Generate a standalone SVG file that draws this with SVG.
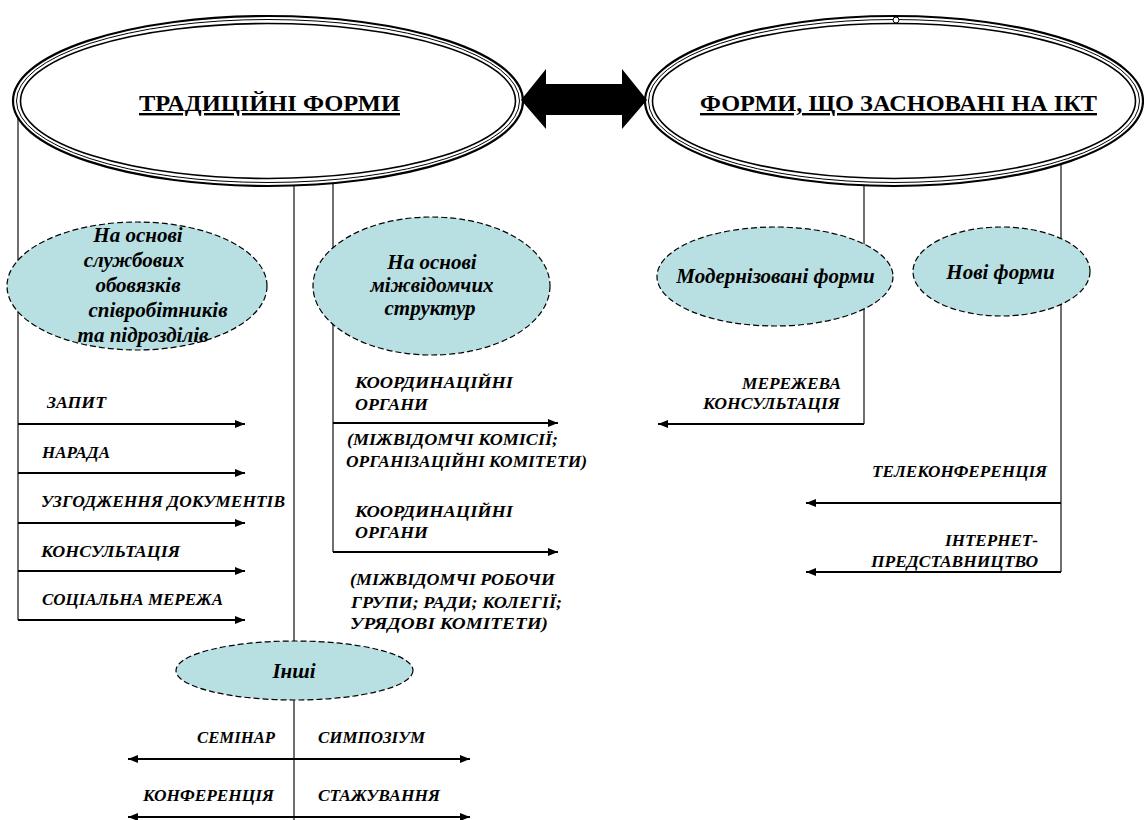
<svg xmlns="http://www.w3.org/2000/svg" width="1144" height="820" viewBox="0 0 1144 820">
<defs>
<marker id="ah" viewBox="0 0 10 8" refX="10" refY="4" markerWidth="10" markerHeight="8" markerUnits="userSpaceOnUse" orient="auto-start-reverse">
<path d="M0,0 L10,4 L0,8 z" fill="#000"/>
</marker>
<style>
.v{stroke:#222;stroke-width:1.3;fill:none}
.h{stroke:#000;stroke-width:1.8;fill:none}
.big{fill:#fff;stroke:#000}
.sub{fill:#b8dfe2;stroke:#000;stroke-width:1.2;stroke-dasharray:6 3}
text{font-family:'Liberation Serif','DejaVu Serif',serif}
.title{font-weight:bold;font-size:24px;text-decoration:underline}
.et{font-weight:bold;font-style:italic;font-size:21px;text-anchor:middle}
.lb{font-weight:bold;font-style:italic;font-size:17px}
</style>
</defs>
<rect width="1144" height="820" fill="#fff"/>

<g id="connectors">
<path class="v" d="M18,100 V620"/>
<path class="v" d="M294,150 V820"/>
<path class="v" d="M333,150 V552"/>
<path class="v" d="M864,150 V424"/>
<path class="v" d="M1061,150 V572"/>
<line class="h" x1="18" y1="424" x2="245" y2="424" marker-end="url(#ah)"/>
<line class="h" x1="18" y1="473" x2="245" y2="473" marker-end="url(#ah)"/>
<line class="h" x1="18" y1="523" x2="245" y2="523" marker-end="url(#ah)"/>
<line class="h" x1="18" y1="571" x2="245" y2="571" marker-end="url(#ah)"/>
<line class="h" x1="18" y1="620" x2="245" y2="620" marker-end="url(#ah)"/>
<line class="h" x1="333" y1="423" x2="558" y2="423" marker-end="url(#ah)"/>
<line class="h" x1="333" y1="552" x2="558" y2="552" marker-end="url(#ah)"/>
<line class="h" x1="864" y1="424" x2="658" y2="424" marker-end="url(#ah)"/>
<line class="h" x1="1061" y1="503" x2="806" y2="503" marker-end="url(#ah)"/>
<line class="h" x1="1061" y1="572" x2="806" y2="572" marker-end="url(#ah)"/>
<line class="h" x1="128" y1="759" x2="470" y2="759" marker-start="url(#ah)" marker-end="url(#ah)"/>
<line class="h" x1="128" y1="817" x2="470" y2="817" marker-start="url(#ah)" marker-end="url(#ah)"/>
</g>

<g id="node-traditional">
<ellipse class="big" cx="268" cy="101" rx="255" ry="85" stroke-width="2.2"/>
<ellipse cx="268" cy="101" rx="251.5" ry="81.5" fill="none" stroke="#000" stroke-width="1"/>
<ellipse cx="268" cy="101" rx="247.5" ry="77.5" fill="none" stroke="#000" stroke-width="1.6"/>
<text class="title" x="139" y="111" textLength="261" lengthAdjust="spacingAndGlyphs">ТРАДИЦІЙНІ ФОРМИ</text>
</g>

<g id="node-ict">
<ellipse class="big" cx="894" cy="101" rx="249" ry="85" stroke-width="2.2"/>
<ellipse cx="894" cy="101" rx="245.5" ry="81.5" fill="none" stroke="#000" stroke-width="1"/>
<ellipse cx="894" cy="101" rx="241.5" ry="77.5" fill="none" stroke="#000" stroke-width="1.6"/>
<circle cx="896" cy="20" r="3" fill="#fff" stroke="#000" stroke-width="1"/>
<text class="title" x="700" y="111" textLength="397" lengthAdjust="spacingAndGlyphs">ФОРМИ, ЩО ЗАСНОВАНІ НА ІКТ</text>
</g>

<g id="node-double-arrow">
<polygon points="521,100 546,69 546,84 622,84 622,69 647,100 622,129 622,115 546,115 546,129" fill="#000"/>
</g>

<g id="node-duties">
<ellipse class="sub" cx="137" cy="286" rx="130" ry="64"/>
<text class="et" x="138" y="242">На основі</text>
<text class="et" x="134" y="267">службових</text>
<text class="et" x="138" y="292">обовязків</text>
<text class="et" x="158" y="317">співробітників</text>
<text class="et" x="143" y="342">та підрозділів</text>
</g>

<g id="node-interagency">
<ellipse class="sub" cx="431.5" cy="286" rx="118.5" ry="69"/>
<text class="et" x="432" y="269">На основі</text>
<text class="et" x="432" y="292">міжвідомчих</text>
<text class="et" x="430" y="315">структур</text>
</g>

<g id="node-modernized">
<ellipse class="sub" cx="775" cy="276.5" rx="118" ry="49.5"/>
<text class="et" x="775.5" y="283">Модернізовані форми</text>
</g>

<g id="node-new">
<ellipse class="sub" cx="1001.5" cy="271.5" rx="88.5" ry="44.5"/>
<text class="et" x="1000.5" y="279">Нові форми</text>
</g>

<g id="node-other">
<ellipse class="sub" cx="294.5" cy="670.5" rx="118.5" ry="29.5"/>
<text class="et" x="294" y="678">Інші</text>
</g>

<g id="labels">
<text class="lb" x="47" y="408" textLength="59" lengthAdjust="spacingAndGlyphs">ЗАПИТ</text>
<text class="lb" x="42" y="458" textLength="68" lengthAdjust="spacingAndGlyphs">НАРАДА</text>
<text class="lb" x="41" y="507" textLength="244" lengthAdjust="spacingAndGlyphs">УЗГОДЖЕННЯ ДОКУМЕНТІВ</text>
<text class="lb" x="41" y="557" textLength="139" lengthAdjust="spacingAndGlyphs">КОНСУЛЬТАЦІЯ</text>
<text class="lb" x="42" y="605" textLength="181" lengthAdjust="spacingAndGlyphs">СОЦІАЛЬНА МЕРЕЖА</text>

<text class="lb" x="355" y="388" textLength="158" lengthAdjust="spacingAndGlyphs">КООРДИНАЦІЙНІ</text>
<text class="lb" x="355" y="410" textLength="73" lengthAdjust="spacingAndGlyphs">ОРГАНИ</text>
<text class="lb" x="347" y="445" textLength="211" lengthAdjust="spacingAndGlyphs">(МІЖВІДОМЧІ КОМІСІЇ;</text>
<text class="lb" x="346" y="467" textLength="241" lengthAdjust="spacingAndGlyphs">ОРГАНІЗАЦІЙНІ КОМІТЕТИ)</text>
<text class="lb" x="355" y="517" textLength="158" lengthAdjust="spacingAndGlyphs">КООРДИНАЦІЙНІ</text>
<text class="lb" x="355" y="538" textLength="73" lengthAdjust="spacingAndGlyphs">ОРГАНИ</text>
<text class="lb" x="350" y="585" textLength="205" lengthAdjust="spacingAndGlyphs">(МІЖВІДОМЧІ РОБОЧИ</text>
<text class="lb" x="351" y="608" textLength="211" lengthAdjust="spacingAndGlyphs">ГРУПИ; РАДИ; КОЛЕГІЇ;</text>
<text class="lb" x="350" y="629" textLength="198" lengthAdjust="spacingAndGlyphs">УРЯДОВІ КОМІТЕТИ)</text>

<text class="lb" x="742" y="389" textLength="99" lengthAdjust="spacingAndGlyphs">МЕРЕЖЕВА</text>
<text class="lb" x="703" y="409" textLength="137" lengthAdjust="spacingAndGlyphs">КОНСУЛЬТАЦІЯ</text>
<text class="lb" x="872" y="477" textLength="175" lengthAdjust="spacingAndGlyphs">ТЕЛЕКОНФЕРЕНЦІЯ</text>
<text class="lb" x="945" y="546" textLength="93" lengthAdjust="spacingAndGlyphs">ІНТЕРНЕТ-</text>
<text class="lb" x="871" y="567" textLength="167" lengthAdjust="spacingAndGlyphs">ПРЕДСТАВНИЦТВО</text>

<text class="lb" x="197" y="743" textLength="78" lengthAdjust="spacingAndGlyphs">СЕМІНАР</text>
<text class="lb" x="318" y="743" textLength="107" lengthAdjust="spacingAndGlyphs">СИМПОЗІУМ</text>
<text class="lb" x="143" y="801" textLength="131" lengthAdjust="spacingAndGlyphs">КОНФЕРЕНЦІЯ</text>
<text class="lb" x="318" y="801" textLength="122" lengthAdjust="spacingAndGlyphs">СТАЖУВАННЯ</text>
</g>
</svg>
